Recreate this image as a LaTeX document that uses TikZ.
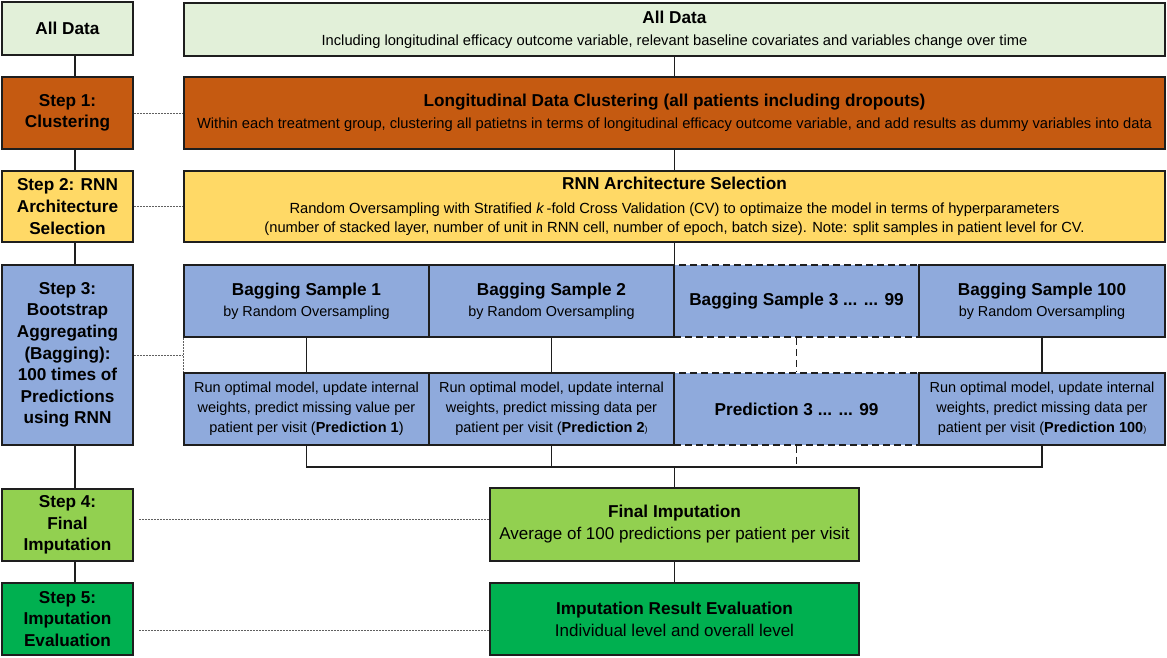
\documentclass[tikz,border=0pt]{standalone}
\usepackage{fontspec}
\setmainfont{Liberation Sans}
\usetikzlibrary{calc}
\definecolor{cAll}{HTML}{E2F0D9}
\definecolor{cClu}{HTML}{C55A11}
\definecolor{cRnn}{HTML}{FFD966}
\definecolor{cBag}{HTML}{8FAADC}
\definecolor{cFin}{HTML}{92D050}
\definecolor{cEva}{HTML}{00B050}
\definecolor{cLine}{HTML}{1E1E1E}
\definecolor{cDot}{HTML}{606060}
\newcommand\boxtitle[1]{{\fontsize{17.2}{22}\selectfont\bfseries #1}}
\begin{document}
\begin{tikzpicture}[x=1pt,y=-1pt,
  frame/.style={draw=cLine, line width=1.6pt, inner sep=1pt, align=center, text=black},
  stepbox/.style={frame, minimum width=131, font=\fontsize{17.2}{21.6}\selectfont\bfseries},
  widebox/.style={frame, minimum width=981},
  bagbox/.style={frame, fill=cBag, minimum width=245, minimum height=72},
  dashbox/.style={bagbox, dash pattern=on 7pt off 4pt},
  link/.style={draw=cLine, line width=1.6pt},
  dashlink/.style={link, dash pattern=on 7pt off 4pt},
  dotline/.style={draw=cDot, line width=0.9pt, dash pattern=on 2pt off 1pt}
]
\useasboundingbox (0,0) rectangle (1167,657);

% left column: process steps
\node[stepbox, fill=cAll, minimum height=53] (LA) at (67.5,28.5) {All Data};
\node[stepbox, fill=cClu, minimum height=72] (L1) at (67.5,113) {Step 1:\\Clustering};
\node[stepbox, fill=cRnn, minimum height=71] (L2) at (67.5,206.5) {Step 2: RNN\\Architecture\\Selection};
\node[stepbox, fill=cBag, minimum height=180] (L3) at (67.5,355) {Step 3:\\Bootstrap\\Aggregating\\(Bagging):\\100 times of\\Predictions\\using RNN};
\node[stepbox, fill=cFin, minimum height=72] (L4) at (67.5,525) {Step 4:\\Final\\Imputation};
\node[stepbox, fill=cEva, minimum height=72] (L5) at (67.5,619) {Step 5:\\Imputation\\Evaluation};

% right column: details of each step
\node[widebox, fill=cAll, minimum height=53, font=\fontsize{14.7}{22}\selectfont] (RA) at (674.5,29.5)
  {\boxtitle{All Data}\\Including longitudinal efficacy outcome variable, relevant baseline covariates and variables change over time};
\node[widebox, fill=cClu, minimum height=72, font=\fontsize{14.7}{22}\selectfont] (R1) at (674.5,113)
  {\boxtitle{Longitudinal Data Clustering (all patients including dropouts)}\\Within each treatment group, clustering all patietns in terms of longitudinal efficacy outcome variable, and add results as dummy variables into data};
\node[widebox, fill=cRnn, minimum height=71, font=\fontsize{14.7}{19.5}\selectfont] (R2) at (674.5,206.5)
  {\boxtitle{RNN Architecture Selection}\\[4.5pt]Random Oversampling with Stratified \textit{k}\,-fold Cross Validation (CV) to optimaize the model in terms of hyperparameters\\(number of stacked layer, number of unit in RNN cell, number of epoch, batch size). Note: split samples in patient level for CV.};

% bagging samples and their predictions
\node[dashbox] (B3) at (796.5,301) {\boxtitle{Bagging Sample 3 ... ... 99}};
\node[dashbox] (P3) at (796.5,409) {\boxtitle{Prediction 3 ... ... 99}};
\node[bagbox, font=\fontsize{14.4}{21}\selectfont] (B1) at (306.5,301) {\boxtitle{Bagging Sample 1}\\by Random Oversampling};
\node[bagbox, font=\fontsize{14.4}{21}\selectfont] (B2) at (551.5,301) {\boxtitle{Bagging Sample 2}\\by Random Oversampling};
\node[bagbox, minimum width=246, font=\fontsize{14.4}{21}\selectfont] (B4) at (1042,301) {\boxtitle{Bagging Sample 100}\\by Random Oversampling};
\node[bagbox, font=\fontsize{14.5}{20}\selectfont] (P1) at (306.5,409)
  {Run optimal model, update internal\\weights, predict missing value per\\patient per visit (\textbf{Prediction 1})};
\node[bagbox, font=\fontsize{14.5}{20}\selectfont] (P2) at (551.5,409)
  {Run optimal model, update internal\\weights, predict missing data per\\patient per visit (\textbf{Prediction 2}{\small)}};
\node[bagbox, minimum width=246, font=\fontsize{14.5}{20}\selectfont] (P4) at (1042,409)
  {Run optimal model, update internal\\weights, predict missing data per\\patient per visit (\textbf{Prediction 100}{\small)}};

% final imputation and evaluation
\node[frame, fill=cFin, minimum width=369, minimum height=73, font=\fontsize{17}{22}\selectfont] (F) at (674.5,524.5)
  {\boxtitle{Final Imputation}\\Average of 100 predictions per patient per visit};
\node[frame, fill=cEva, minimum width=369, minimum height=72, font=\fontsize{17}{22}\selectfont] (E) at (674.5,619)
  {\boxtitle{Imputation Result Evaluation}\\Individual level and overall level};

% left column chain
\coordinate (lx) at (75,0);
\draw[link] (LA.south -| lx) -- (L1.north -| lx);
\draw[link] (L1.south -| lx) -- (L2.north -| lx);
\draw[link] (L2.south -| lx) -- (L3.north -| lx);
\draw[link] (L3.south -| lx) -- (L4.north -| lx);
\draw[link] (L4.south -| lx) -- (L5.north -| lx);

% right column chain
\draw[link] (RA.south) -- (R1.north);
\draw[link] (R1.south) -- (R2.north);
\draw[link] (R2.south) -- (R2.south |- B2.north);
\draw[link] (B1.south) -- (P1.north);
\draw[link] (B2.south) -- (P2.north);
\draw[dashlink] (B3.south) -- (P3.north);
\draw[link] (B4.south) -- (P4.north);
\coordinate (bus) at (674.5,467);
\draw[link] (P1.south) |- (bus) -| (P4.south);
\draw[link] (P2.south) -- (P2.south |- bus);
\draw[dashlink] (P3.south) -- (P3.south |- bus);
\draw[link] (bus) -- (F.north);
\draw[link] (F.south) -- (E.north);

% step-to-detail guides
\draw[dotline] (L1.east) -- (R1.west);
\draw[dotline] (L2.east) -- (R2.west);
\draw[dotline] (L3.east) -- (L3.east -| B1.west);
\draw[dotline] (B1.south west) -- (P1.north west);
\draw[dotline] ($(L4.east)+(5,-6)$) -- ($(F.west)+(0,-5.5)$);
\draw[dotline] ($(L5.east)+(5,11)$) -- ($(E.west)+(0,11)$);
\end{tikzpicture}
\end{document}
